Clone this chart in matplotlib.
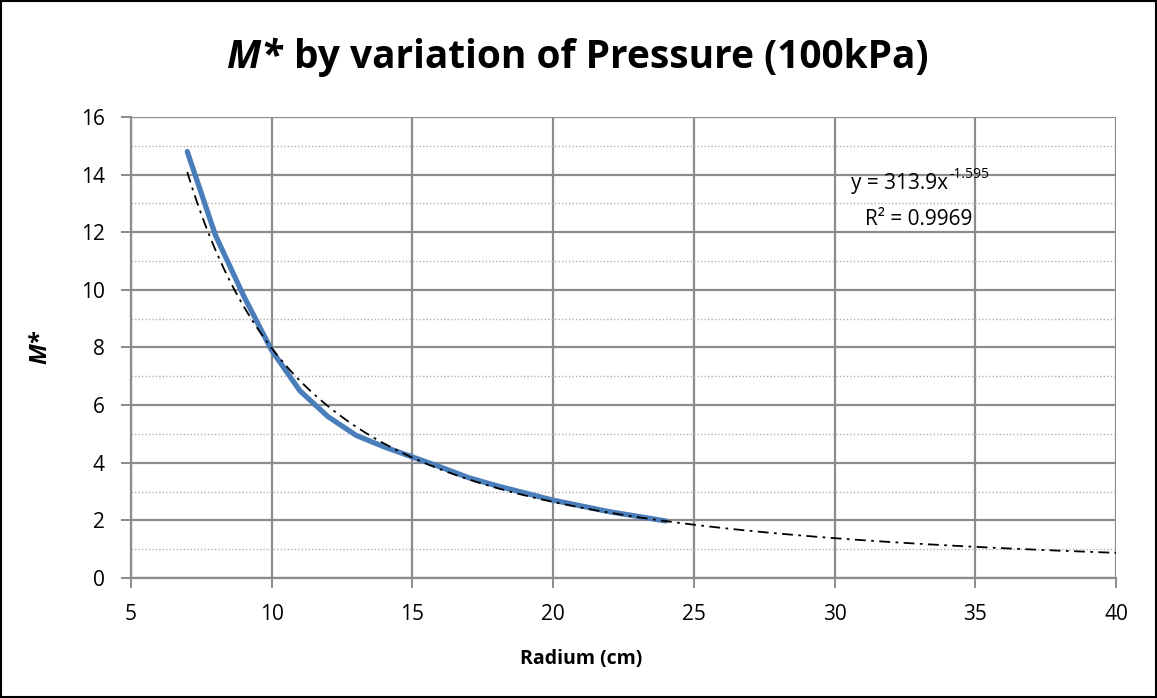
import matplotlib
matplotlib.use('Agg')
import matplotlib.pyplot as plt
import numpy as np
from matplotlib import rcParams
from matplotlib.patches import Rectangle
from matplotlib.transforms import offset_copy

rcParams['font.family'] = 'sans-serif'
rcParams['font.sans-serif'] = ['Open Sans', 'DejaVu Sans']

# measured M* against radius (cm)
radius = [7, 8, 9, 10, 11, 12, 13, 14, 15, 16, 17, 18, 19, 20, 22, 24]
m_star = [14.8, 11.9, 9.8, 7.9, 6.5, 5.6, 4.95, 4.55, 4.2, 3.85, 3.48, 3.2,
          2.95, 2.7, 2.3, 1.98]

# power trendline shown on the chart
trend_a = 313.9
trend_b = -1.595
trend_r2 = 0.9969
trend_range = (7, 40)

x_ticks = [5, 10, 15, 20, 25, 30, 35, 40]
y_ticks = [0, 2, 4, 6, 8, 10, 12, 14, 16]

grid_col = '#8c8c8c'

fig = plt.figure(figsize=(11.57, 6.98), dpi=100)
ax = fig.add_axes([0.1132, 0.1719, 0.8514, 0.6605])

# gridlines
ax.set_xlim(5, 40)
ax.set_ylim(0, 16)
ax.set_xticks(x_ticks)
ax.set_yticks(y_ticks)
ax.set_yticks(np.arange(1, 16, 2), minor=True)
ax.tick_params(axis='y', which='minor', length=0)
ax.grid(True, which='major', color=grid_col, linewidth=1.6, zorder=0)
ax.grid(True, which='minor', axis='y', color='#b0b0b0', linewidth=1.0,
        linestyle=(0, (1, 1.5)), zorder=0)

for side in ['top', 'right']:
    ax.spines[side].set_visible(False)
for side in ['left', 'bottom']:
    ax.spines[side].set_color(grid_col)
    ax.spines[side].set_linewidth(1.6)

ax.tick_params(axis='both', which='major', direction='out', length=7,
               width=1.4, color=grid_col, labelsize=15, pad=12)

# data and trendline
ax.plot(radius, m_star, color='#4a7ebb', linewidth=3.8,
        solid_capstyle='round', zorder=3)

tx = np.linspace(trend_range[0], trend_range[1], 200)
ax.plot(tx, trend_a * tx ** trend_b, color='black', linewidth=1.3,
        linestyle=(0, (6, 3, 1.5, 3)), zorder=4)

# trendline label, exponent written as a raised smaller text
eq = ax.text(30.6, 13.7, 'y = %.1fx' % trend_a, fontsize=15,
             ha='left', va='center')
fig.canvas.draw()
bb = eq.get_window_extent()
x_end, _ = ax.transData.inverted().transform((bb.x1, bb.y1))
ax.text(x_end, 13.75, '%.3f' % trend_b, fontsize=10, ha='left',
        va='bottom',
        transform=offset_copy(ax.transData, fig=fig, x=1, y=0, units='dots'))
ax.text(33.0, 12.45, 'R² = %.4f' % trend_r2,
        fontsize=15, ha='center', va='center')

ax.set_xlabel('Radium (cm)', fontsize=14, fontweight='bold')
ax.xaxis.set_label_coords(0.457, -0.155)
ax.set_ylabel('M*', fontsize=17, fontweight='bold', style='italic')
ax.yaxis.set_label_coords(-0.08, 0.5)

t1 = fig.text(0.196, 0.917, 'M*', fontsize=28, fontweight='bold',
              style='italic', ha='left', va='center')
fig.canvas.draw()
bb = t1.get_window_extent()
fig.text(bb.x1 / fig.bbox.width + 0.01, 0.917,
         'by variation of Pressure (100kPa)', fontsize=28,
         fontweight='bold', ha='left', va='center')

# chart border
fig.patches.append(Rectangle((0.001, 0.001), 0.998, 0.998,
                             transform=fig.transFigure, fill=False,
                             edgecolor='black', linewidth=1.5))

plt.savefig('out.png', dpi=100)
